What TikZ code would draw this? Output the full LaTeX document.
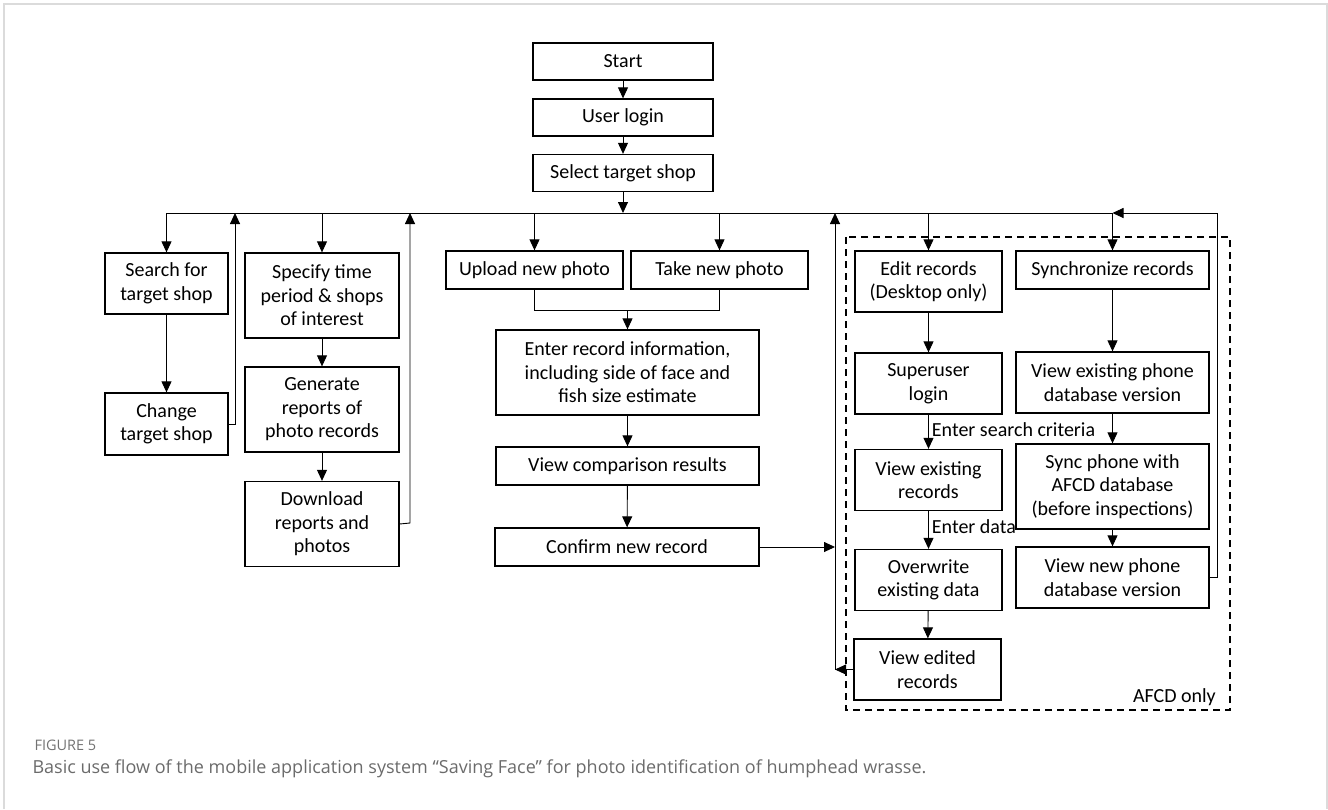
\documentclass[tikz,border=0pt]{standalone}
\usepackage{fontspec}
\setmainfont{Carlito}
\newfontfamily\capfont{Open Sans}
\usetikzlibrary{arrows.meta}
\tikzset{
  stepbox/.style={draw,line width=1.3pt,align=center,inner sep=2pt,font=\fontsize{20}{23.5}\selectfont},
  flow/.style={line width=0.9pt,-{Triangle[length=11pt,width=10pt]}},
  link/.style={line width=0.9pt},
  lbl/.style={font=\fontsize{20}{23.5}\selectfont,inner sep=0pt}
}
\begin{document}
\begin{tikzpicture}[x=1pt,y=-1pt]
    \useasboundingbox (0,0) rectangle (1328,809);
    \draw[black!14,line width=2pt] (4,809) -- (4,4) -- (1327,4) -- (1327,809);
    \node[stepbox,minimum width=180,minimum height=37] (start) at (623,61.5) {Start};
    \node[stepbox,minimum width=180,minimum height=37] (login) at (623,117.5) {User login};
    \node[stepbox,minimum width=180,minimum height=37] (select) at (623,173) {Select target shop};
    \coordinate (bus) at (623,213);
    \node[stepbox,minimum width=123,minimum height=61] (search) at (166.5,283.5) {Search for\\target shop};
    \node[stepbox,minimum width=123,minimum height=62] (change) at (166.5,424) {Change\\target shop};
    \node[stepbox,minimum width=154,minimum height=85] (specify) at (322,295.5) {Specify time\\period \& shops\\of interest};
    \node[stepbox,minimum width=154,minimum height=85] (generate) at (322,409.5) {Generate\\reports of\\photo records};
    \node[stepbox,minimum width=154,minimum height=85] (download) at (322,524) {Download\\reports and\\photos};
    \node[stepbox,minimum width=177,minimum height=38] (upload) at (534.5,270) {Upload new photo};
    \node[stepbox,minimum width=177,minimum height=38] (take) at (719.5,270) {Take new photo};
    \node[stepbox,minimum width=263,minimum height=85] (enter) at (627.5,372.5) {Enter record information,\\including side of face and\\fish size estimate};
    \node[stepbox,minimum width=263,minimum height=38] (compare) at (627.5,466) {View comparison results};
    \node[stepbox,minimum width=264,minimum height=38] (confirm) at (627,547) {Confirm new record};
    \node[stepbox,minimum width=147,minimum height=61] (edit) at (928.5,281.5) {Edit records\\(Desktop only)};
    \node[stepbox,minimum width=147,minimum height=61] (super) at (928.5,383.5) {Superuser\\login};
    \node[stepbox,minimum width=147,minimum height=61] (viewex) at (928.5,480) {View existing\\records};
    \node[stepbox,minimum width=147,minimum height=61] (overwrite) at (928.5,580) {Overwrite\\existing data};
    \node[stepbox,minimum width=147,minimum height=61] (edited) at (927.5,669.5) {View edited\\records};
    \node[stepbox,minimum width=193,minimum height=38] (sync) at (1112.5,270) {Synchronize records};
    \node[stepbox,minimum width=193,minimum height=61] (viewphone) at (1112.5,382.5) {View existing phone\\database version};
    \node[stepbox,minimum width=193,minimum height=85] (syncphone) at (1112.5,486.5) {Sync phone with\\AFCD database\\(before inspections)};
    \node[stepbox,minimum width=193,minimum height=61] (newphone) at (1112.5,577.5) {View new phone\\database version};
    \draw[dashed,line width=1.8pt,dash pattern=on 7pt off 5pt] (846,237) rectangle (1230,710);
    \node[lbl,anchor=south east] (afcd) at (1216,706) {AFCD only};
    \draw[flow] (start) -- (login);
    \draw[flow] (login) -- (select);
    \draw[flow] (select) -- (bus);
    \draw[link] (search.north |- bus) -- (sync.north |- bus);
    \draw[flow] (search.north |- bus) -- (search);
    \draw[flow] (specify.north |- bus) -- (specify);
    \draw[flow] (upload.north |- bus) -- (upload);
    \draw[flow] (take.north |- bus) -- (take);
    \draw[flow] (edit.north |- bus) -- (edit);
    \draw[flow] (sync.north |- bus) -- (sync);
    \draw[flow] (search) -- (change);
    \draw[flow] (change.east) -- (235,424) -- (235,213);
    \draw[flow] (specify) -- (generate);
    \draw[flow] (generate) -- (download);
    \draw[flow] (download.east) -- (410,523) -- (410,213);
    \draw[link] (upload.south) -- (upload.south |- 0,310) -- (take.south |- 0,310) -- (take.south);
    \draw[flow] (enter.north |- 0,310) -- (enter);
    \draw[flow] (enter) -- (compare);
    \draw[flow] (compare) -- (confirm);
    \coordinate (back) at (835,669.5);
    \draw[flow] (confirm.east) -- (confirm.east -| back);
    \draw[flow] (edited.west) -- (back);
    \draw[flow] (back) -- (835,213);
    \draw[flow] (edit) -- (super);
    \draw[flow] (super) -- node[lbl,anchor=west,pos=0.45,xshift=3pt] (crit) {Enter search criteria} (viewex);
    \draw[flow] (viewex) -- node[lbl,anchor=west,pos=0.4,xshift=3pt] (data) {Enter data} (overwrite);
    \draw[flow] (overwrite) -- (edited);
    \draw[flow] (sync) -- (viewphone);
    \draw[flow] (viewphone) -- (syncphone);
    \draw[flow] (syncphone) -- (newphone);
    \draw[flow] (newphone.east) -- (1217,577.5) -- (1217,213) -- (sync.north |- bus);
    \node[anchor=west,text=black!55,font=\capfont\fontsize{14.5}{17}\selectfont] (fig) at (31,745) {FIGURE 5};
    \node[anchor=west,text=black!58,font=\capfont\fontsize{18}{21}\selectfont] (cap) at (29,769) {Basic use flow of the mobile application system “Saving Face” for photo identification of humphead wrasse.};
\end{tikzpicture}
\end{document}
